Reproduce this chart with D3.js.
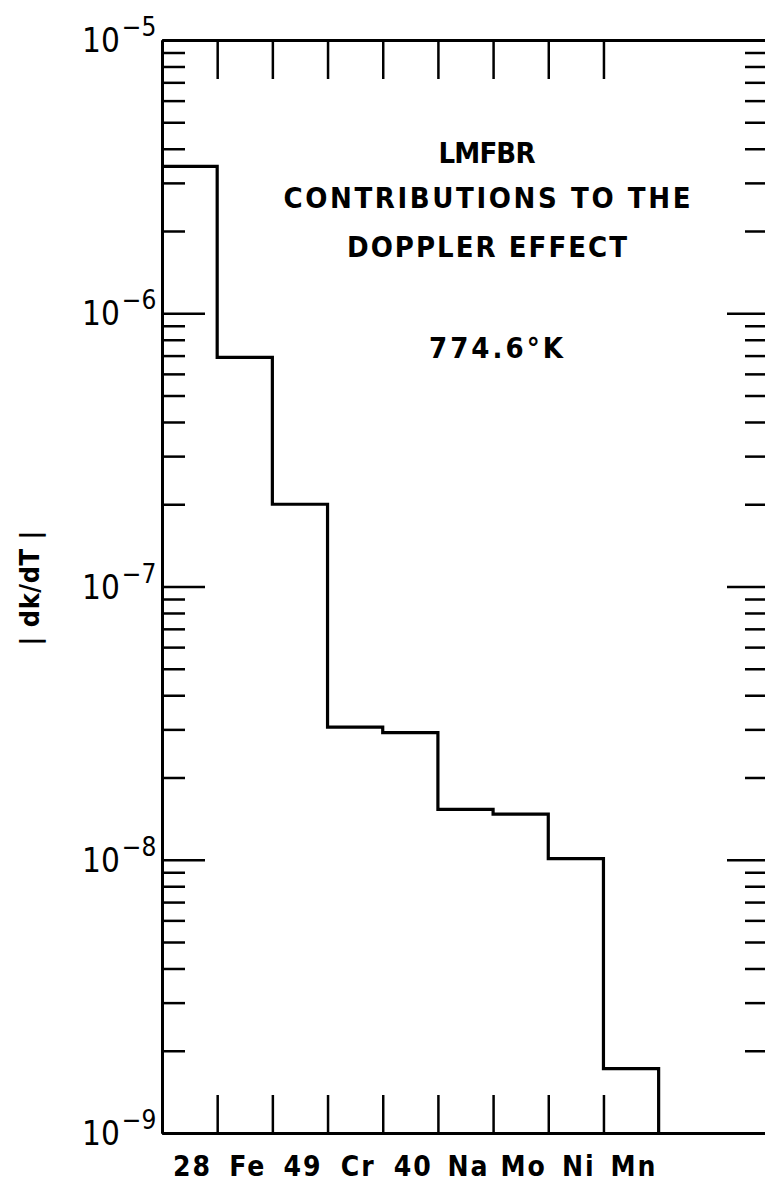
<!DOCTYPE html>
<html>
<head>
<meta charset="utf-8">
<script src="https://cdn.jsdelivr.net/npm/d3@7"></script>
<style>
  html, body { margin: 0; padding: 0; background: #fff; }
  svg { display: block; }
</style>
</head>
<body>
<div id="chart"></div>
<script>
// Isotope / Element Categories Along The Bottom
const isotopes = ["28", "Fe", "49", "Cr", "40", "Na", "Mo", "Ni", "Mn"];
// |dk/dT| Contribution Of Each Category (Step Heights)
const dkdT = [3.45e-6, 6.9e-7, 2.0e-7, 3.06e-8, 2.92e-8, 1.53e-8, 1.47e-8, 1.01e-8, 1.72e-9];
// Decade Tick Values And Their Exponent Labels
const decades = [1e-5, 1e-6, 1e-7, 1e-8, 1e-9];
const exponents = ["\u22125", "\u22126", "\u22127", "\u22128", "\u22129"];
// Text Block Inside The Plot
const titleLines = ["LMFBR", "CONTRIBUTIONS TO THE", "DOPPLER EFFECT", "774.6\u00b0K"];
const yLabel = "| dk/dT |";

// Dimensions For SVG Element
let w = 765, h = 1185;
let plotLeft = 162, plotRight = 769, plotTop = 40, plotBottom = 1133;
let slots = 11;

let svg = d3.select("#chart").append("svg").attr("width", w).attr("height", h);
svg.append("rect").attr("width", w).attr("height", h).attr("fill", "#fff");

// Scales
let x = d3.scaleLinear().domain([0, slots]).range([plotLeft, plotRight]);
let y = d3.scaleLog().domain([1e-9, 1e-5]).range([plotBottom, plotTop]);

let minor = y.ticks().filter((d) => { return Math.abs(Math.log10(d) - Math.round(Math.log10(d))) > 1e-6; });
let bounds = d3.range(1, isotopes.length);

// Axis Styling Helper
function style(g, width) {
  g.selectAll(".domain").attr("stroke", "#000").attr("stroke-width", 3);
  g.selectAll(".tick line").attr("stroke", "#000").attr("stroke-width", width);
  g.selectAll(".tick text").remove();
}

// Left Axis: Minor And Major Ticks Pointing Inward
svg.append("g").attr("transform", "translate(" + plotLeft + ",0)")
  .call(d3.axisRight(y).tickValues(minor).tickSize(23).tickSizeOuter(0).tickFormat(""))
  .call((g) => style(g, 2.5));
svg.append("g").attr("transform", "translate(" + plotLeft + ",0)")
  .call(d3.axisRight(y).tickValues(decades).tickSize(43).tickSizeOuter(0).tickFormat(""))
  .call((g) => style(g, 2.5));

// Right Axis (Sits Just Past The Page Edge)
svg.append("g").attr("transform", "translate(" + plotRight + ",0)")
  .call(d3.axisLeft(y).tickValues(minor).tickSize(24).tickSizeOuter(0).tickFormat(""))
  .call((g) => style(g, 2.5));
svg.append("g").attr("transform", "translate(" + plotRight + ",0)")
  .call(d3.axisLeft(y).tickValues(decades).tickSize(42).tickSizeOuter(0).tickFormat(""))
  .call((g) => style(g, 2.5));

// Top And Bottom Axes With Category Boundary Ticks
svg.append("g").attr("transform", "translate(0," + plotTop + ")")
  .call(d3.axisBottom(x).tickValues(bounds).tickSize(39).tickSizeOuter(0).tickFormat(""))
  .call((g) => style(g, 2.5));
svg.append("g").attr("transform", "translate(0," + plotBottom + ")")
  .call(d3.axisTop(x).tickValues(bounds).tickSize(38).tickSizeOuter(0).tickFormat(""))
  .call((g) => style(g, 2.5));

// Decade Labels 10^-n
let decLabels = svg.selectAll("text.dec").data(decades).enter().append("text")
  .attr("class", "dec")
  .attr("x", 82)
  .attr("y", (d) => { return y(d) + 12; })
  .attr("font-family", "'Liberation Sans Narrow', 'DejaVu Sans Condensed', sans-serif")
  .attr("font-size", 33)
  .attr("fill", "#000");
decLabels.append("tspan").text("10");
decLabels.append("tspan").attr("dy", -16).attr("dx", 2).attr("font-size", 26).text((d, i) => { return exponents[i]; });

// Step Line Of Contributions
let points = dkdT.map((d, i) => { return [i, d]; });
points.push([isotopes.length, 1e-9]);
let line = d3.line().x((d) => { return x(d[0]); }).y((d) => { return y(d[1]); }).curve(d3.curveStepAfter);
svg.append("path")
  .attr("d", line(points))
  .attr("fill", "none")
  .attr("stroke", "#000")
  .attr("stroke-width", 3.2)
  .attr("stroke-linejoin", "miter");

// Category Labels Under The Axis
svg.selectAll("text.cat").data(isotopes).enter().append("text")
  .attr("class", "cat")
  .attr("x", (d, i) => { return x(i + 0.5) + 3; })
  .attr("y", 1176)
  .attr("text-anchor", "middle")
  .attr("font-family", "'DejaVu Sans Condensed', 'DejaVu Sans', sans-serif")
  .attr("font-weight", "bold")
  .attr("font-size", 28)
  .attr("letter-spacing", 2)
  .attr("fill", "#000")
  .text((d) => { return d; });

// Title Block
let titleY = [163, 208, 257, 358];
let titleW = [97, 407, 280, 134];
svg.selectAll("text.title").data(titleLines).enter().append("text")
  .attr("class", "title")
  .attr("x", (d, i) => { return i == 3 ? 496 : 487; })
  .attr("y", (d, i) => { return titleY[i]; })
  .attr("text-anchor", "middle")
  .attr("font-family", "'DejaVu Sans Condensed', 'DejaVu Sans', sans-serif")
  .attr("font-weight", "bold")
  .attr("font-size", 29)
  .attr("textLength", (d, i) => { return titleW[i]; })
  .attr("lengthAdjust", "spacing")
  .attr("fill", "#000")
  .text((d) => { return d; });

// Y Axis Label
svg.append("text")
  .attr("transform", "translate(39,588) rotate(-90)")
  .attr("text-anchor", "middle")
  .attr("font-family", "'DejaVu Sans Condensed', 'DejaVu Sans', sans-serif")
  .attr("font-weight", "bold")
  .attr("font-size", 27)
  .attr("textLength", 115)
  .attr("lengthAdjust", "spacing")
  .attr("fill", "#000")
  .text(yLabel);
</script>
</body>
</html>
